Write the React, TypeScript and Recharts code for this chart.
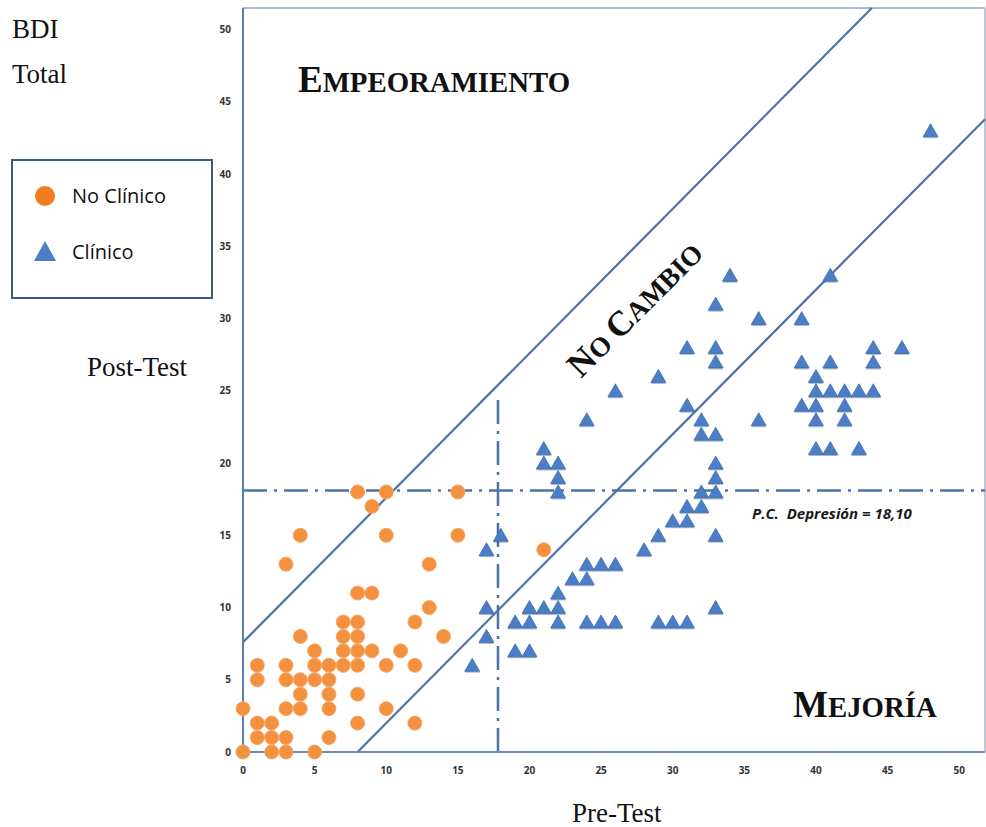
import React from "react";
import { ReferenceLine, Scatter, ScatterChart, XAxis, YAxis } from "recharts";

// Puntuaciones BDI pre / post, grupo no clínico
const noClinicoPre = [
  0, 0, 1, 1, 1, 1, 2, 2, 2, 3, 3, 3, 4, 4, 4, 3, 3, 4, 3, 4, 5, 5, 5, 5, 6, 6, 6, 6, 6,
  7, 7, 7, 7, 8, 8, 8, 8, 8, 8, 8, 9, 9, 10, 10, 10, 11, 12, 12, 12, 13, 13, 14, 15, 9,
  8, 10, 15, 21,
];
const noClinicoPost = [
  0, 3, 6, 5, 2, 1, 2, 1, 0, 1, 0, 3, 3, 4, 5, 6, 5, 8, 13, 15, 0, 7, 6, 5, 6, 5, 4, 3, 1,
  6, 9, 8, 7, 9, 8, 7, 6, 4, 2, 11, 11, 7, 6, 3, 15, 7, 9, 6, 2, 10, 13, 8, 15, 17,
  18, 18, 18, 14,
];

// Puntuaciones BDI pre / post, grupo clínico
const clinicoPre = [
  16, 17, 17, 17, 18, 19, 20, 19, 20, 20, 21, 22, 22, 22, 21, 21, 22, 22, 22, 23, 24, 24,
  25, 26, 24, 25, 26, 24, 26, 28, 29, 30, 31, 31, 32, 32, 33, 33, 33, 33, 33, 29, 30, 31,
  31, 32, 32, 33, 29, 31, 33, 33, 33, 34, 36, 39, 41, 48, 39, 41, 44, 44, 46, 40, 40, 41,
  42, 43, 44, 39, 40, 42, 40, 42, 36, 40, 41, 43,
];
const clinicoPost = [
  6, 8, 10, 14, 15, 7, 7, 9, 9, 10, 10, 10, 11, 9, 21, 20, 20, 19, 18, 12, 12, 13,
  13, 13, 9, 9, 9, 23, 25, 14, 15, 16, 16, 17, 17, 18, 18, 19, 20, 15, 10, 9, 9, 9,
  24, 23, 22, 22, 26, 28, 28, 27, 31, 33, 30, 30, 33, 43, 27, 27, 28, 27, 28, 26, 25, 25,
  25, 25, 25, 24, 24, 24, 23, 23, 23, 21, 21, 21,
];

const axisTicks = [0, 5, 10, 15, 20, 25, 30, 35, 40, 45, 50];

// Punto de corte de depresión y límites del índice de cambio fiable
const puntoCorte = 18.1;
const cortePre = 17.8;
const limiteCortePost = 24.5;
const rciSuperior = 7.6;
const rciInferior = -8;

const X_MAX = 51.8;
const Y_MAX = 51.5;

const noClinico = noClinicoPre.map((pre, i) => ({ pre, post: noClinicoPost[i] }));
const clinico = clinicoPre.map((pre, i) => ({ pre, post: clinicoPost[i] }));

const NARANJA = "#F4913F";
const AZUL = "#4A7EC6";
const LINEA = "#4D71A8";

const Circulo = (props: any) => {
  const { cx, cy } = props;
  if (cx == null || cy == null) return null;
  return <circle cx={cx} cy={cy} r={7} fill={NARANJA} stroke="#F7A865" strokeWidth={1} />;
};

const Triangulo = (props: any) => {
  const { cx, cy } = props;
  if (cx == null || cy == null) return null;
  const pts = (dy: number) =>
    `${cx},${cy - 7 + dy} ${cx - 7.5},${cy + 6 + dy} ${cx + 7.5},${cy + 6 + dy}`;
  return (
    <g>
      <polygon points={pts(1.5)} fill="#27466f" opacity={0.35} />
      <polygon points={pts(0)} fill={AZUL} stroke="#3F6DAF" strokeWidth={0.8} />
    </g>
  );
};

const tickStyle = {
  fontFamily: "'Open Sans', sans-serif",
  fontWeight: 700,
  fontSize: 10,
  fill: "#333",
};

const serif = "'Liberation Serif', 'Times New Roman', serif";

const dashDot = "24 7 3 7";

export default function App() {
  return (
    <div
      style={{
        position: "absolute",
        left: 0,
        top: 0,
        width: 986,
        height: 827,
        background: "#fff",
        overflow: "hidden",
      }}
    >
      <ScatterChart width={986} height={827} margin={{ top: 8, right: 1, bottom: 45, left: 213 }}>
        <XAxis
          type="number"
          dataKey="pre"
          domain={[0, X_MAX]}
          ticks={axisTicks}
          height={30}
          tickLine={false}
          tickSize={0}
          tickMargin={15}
          tick={tickStyle}
          axisLine={{ stroke: "#6C88B8", strokeWidth: 2 }}
        />
        <YAxis
          type="number"
          dataKey="post"
          domain={[0, Y_MAX]}
          ticks={axisTicks}
          width={30}
          tickLine={false}
          tickSize={0}
          tickMargin={12}
          tick={tickStyle}
          axisLine={{ stroke: "#5B7DB5", strokeWidth: 2 }}
        />
        <Scatter
          name="No Clínico"
          data={noClinico}
          shape={Circulo}
          isAnimationActive={false}
        />
        <Scatter name="Clínico" data={clinico} shape={Triangulo} isAnimationActive={false} />

        {/* marco superior y derecho */}
        <ReferenceLine y={Y_MAX} stroke="#A9B8CF" strokeWidth={2} />
        <ReferenceLine x={X_MAX} stroke="#BCC8DA" strokeWidth={2} />

        {/* bandas de no cambio: post = pre ± RCI */}
        <ReferenceLine
          segment={[
            { x: 0, y: rciSuperior },
            { x: Y_MAX - rciSuperior, y: Y_MAX },
          ]}
          stroke={LINEA}
          strokeWidth={2.2}
        />
        <ReferenceLine
          segment={[
            { x: -rciInferior, y: 0 },
            { x: X_MAX, y: X_MAX + rciInferior },
          ]}
          stroke={LINEA}
          strokeWidth={2.2}
        />

        {/* punto de corte */}
        <ReferenceLine
          segment={[
            { x: 0, y: puntoCorte },
            { x: X_MAX, y: puntoCorte },
          ]}
          stroke={LINEA}
          strokeWidth={2.5}
          strokeDasharray={dashDot}
        />
        <ReferenceLine
          segment={[
            { x: cortePre, y: 0 },
            { x: cortePre, y: limiteCortePost },
          ]}
          stroke={LINEA}
          strokeWidth={2.5}
          strokeDasharray={dashDot}
        />
      </ScatterChart>

      <svg
        width={986}
        height={827}
        style={{ position: "absolute", left: 0, top: 0, pointerEvents: "none" }}
      >
        <g fontFamily={serif} fontSize={27} fill="#111">
          <text x={12} y={38}>BDI</text>
          <text x={12} y={83}>Total</text>
          <text x={87} y={376}>Post-Test</text>
          <text x={572} y={822}>Pre-Test</text>
        </g>

        <g fontFamily={serif} fontWeight={700} fill="#111">
          <text x={298} y={92}>
            <tspan fontSize={37}>E</tspan>
            <tspan fontSize={28.8}>MPEORAMIENTO</tspan>
          </text>
          <text x={793} y={717}>
            <tspan fontSize={37}>M</tspan>
            <tspan fontSize={28.8}>EJORÍA</tspan>
          </text>
          <text x={643} y={317} textAnchor="middle" transform="rotate(-45 643 317)">
            <tspan fontSize={35}>N</tspan>
            <tspan fontSize={27.5}>O </tspan>
            <tspan fontSize={35}>C</tspan>
            <tspan fontSize={27.5}>AMBIO</tspan>
          </text>
        </g>

        <text
          x={752}
          y={519}
          fontFamily="'Open Sans', sans-serif"
          fontWeight={700}
          fontStyle="italic"
          fontSize={15}
          fill="#1a1a1a"
          style={{ whiteSpace: "pre" }}
        >
          P.C.  Depresión = 18,10
        </text>

        {/* leyenda */}
        <rect x={12} y={160} width={200} height={138} fill="#fff" stroke="#3D5A80" strokeWidth={2} />
        <circle cx={45} cy={196} r={10} fill="#F47C20" />
        <polygon points="45,241 34,261 56,261" fill={AZUL} />
        <g fontFamily="'Open Sans', sans-serif" fontSize={20} fill="#111">
          <text x={72} y={203}>No Clínico</text>
          <text x={72} y={259}>Clínico</text>
        </g>
      </svg>
    </div>
  );
}
